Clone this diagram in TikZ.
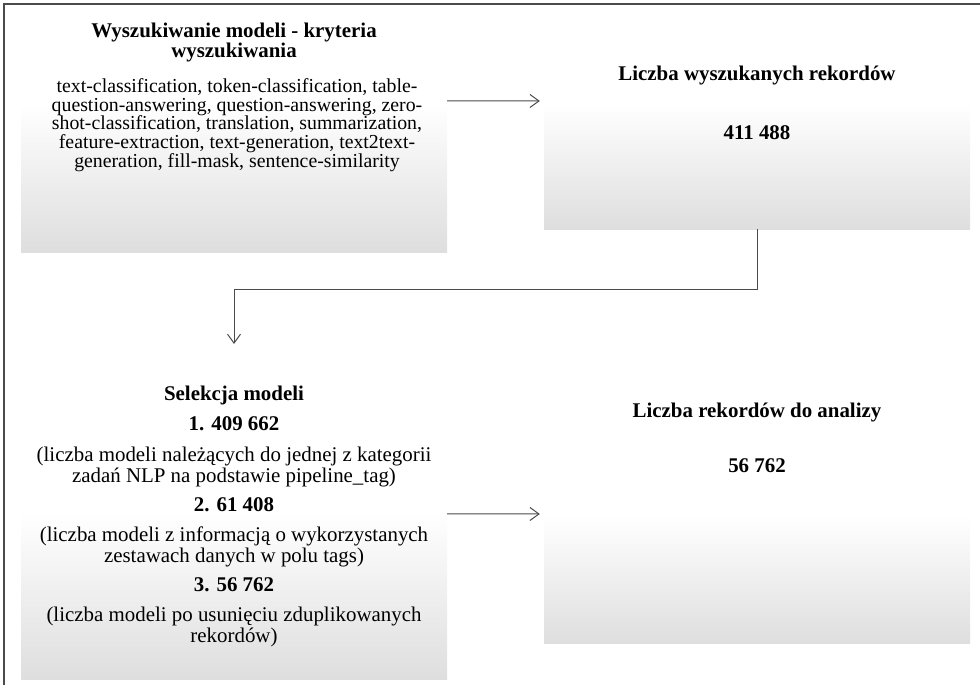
\documentclass[tikz,border=0pt]{standalone}
\usepackage{fontspec}
\setmainfont{Liberation Serif}
\usetikzlibrary{arrows.meta}
\definecolor{boxgray}{RGB}{222,222,222}
\definecolor{linegray}{RGB}{75,75,75}
\tikzset{
  arr/.style={-{Straight Barb[length=9pt,width=13pt]}, draw=linegray, line width=1pt},
  shbox/.style={top color=white, bottom color=boxgray, draw=none, inner sep=0pt,
                minimum width=426pt},
  ttl/.style={font=\bfseries\fontsize{20.9}{20}\selectfont, align=center, inner sep=0pt},
  txt/.style={font=\fontsize{20.9}{21}\selectfont, align=center, inner sep=0pt},
}

\begin{document}
\begin{tikzpicture}[x=1pt, y=-1pt]
\useasboundingbox (0,0) rectangle (980,685);
% outer frame (only top and left edges visible)
\draw[linegray, line width=1.6pt] (4,685) -- (4,4) -- (980,4);

% shaded lower halves of the four boxes
\node[shbox, minimum height=149pt] (kryt) at (234,177.5) {};
\node[shbox, minimum height=125pt] (wysz) at (757,166.5) {};
\node[shbox, minimum height=166pt] (sel)  at (234,596) {};
\node[shbox, minimum height=127pt] (anal) at (757,579.5) {};

% texts
\node[ttl] (krytT) at (234,43) {Wyszukiwanie modeli - kryteria\\wyszukiwania};
\node[txt, font=\fontsize{19.8}{18.7}\selectfont] (krytB) at (237,125)
  {text-classification, token-classification, table-\\
   question-answering, question-answering, zero-\\
   shot-classification, translation, summarization,\\
   feature-extraction, text-generation, text2text-\\
   generation, fill-mask, sentence-similarity};
\node[ttl] (wyszT) at (757,103) {Liczba wyszukanych rekordów\\[39pt]411 488};
\node[txt] (selT) at (234,516)
  {\textbf{Selekcja modeli}\\[9pt]
   \textbf{1. 409 662}\\[10pt]
   (liczba modeli należących do jednej z kategorii\\
   zadań NLP na podstawie pipeline\_tag)\\[8pt]
   \textbf{2. 61 408}\\[9pt]
   (liczba modeli z informacją o wykorzystanych\\
   zestawach danych w polu tags)\\[8pt]
   \textbf{3. 56 762}\\[9pt]
   (liczba modeli po usunięciu zduplikowanych\\
   rekordów)};
\node[ttl] (analT) at (757,438) {Liczba rekordów do analizy\\[35pt]56 762};

\coordinate (selin) at (234,344);

\draw[arr, shorten >=4pt] (kryt.north east) ++(0,-2) -- (wysz.north west |- 0,101);
\draw[arr] (wysz.south) -- ++(0,60) -| (selin);
\draw[arr, shorten >=4pt] (sel.north east) ++(0,1) -- (anal.west |- 0,514);
\end{tikzpicture}
\end{document}
